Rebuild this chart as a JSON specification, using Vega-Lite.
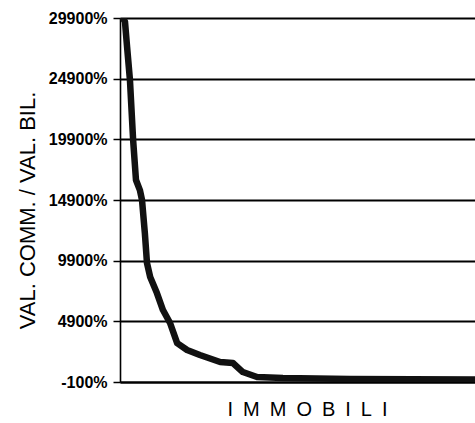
{
  "$schema": "https://vega.github.io/schema/vega-lite/v6.json",
  "width": 355,
  "height": 364,
  "autosize": {"type": "none"},
  "padding": {"left": 120, "top": 18, "right": 0, "bottom": 41},
  "background": "white",
  "config": {"view": {"stroke": null}, "font": "Liberation Sans"},
  "data": {"values": [
    {"i": 0.8, "v": 29900},
    {"i": 1.4, "v": 29600},
    {"i": 2.0, "v": 27500},
    {"i": 2.8, "v": 24800},
    {"i": 3.7, "v": 19840},
    {"i": 4.5, "v": 16550},
    {"i": 5.6, "v": 15720},
    {"i": 6.2, "v": 14900},
    {"i": 7.0, "v": 12180},
    {"i": 7.6, "v": 9710},
    {"i": 8.5, "v": 8550},
    {"i": 10.4, "v": 7230},
    {"i": 12.1, "v": 5830},
    {"i": 14.1, "v": 4760},
    {"i": 16.1, "v": 3110},
    {"i": 18.9, "v": 2540},
    {"i": 22.5, "v": 2125},
    {"i": 28.2, "v": 1550},
    {"i": 31.8, "v": 1465},
    {"i": 34.6, "v": 720},
    {"i": 38.6, "v": 310},
    {"i": 45.9, "v": 230},
    {"i": 64.8, "v": 150},
    {"i": 100, "v": 100}
  ]},
  "mark": {"type": "line", "color": "#111111", "strokeWidth": 6.5, "strokeCap": "round", "strokeJoin": "round", "clip": true},
  "encoding": {
    "x": {
      "field": "i", "type": "quantitative",
      "scale": {"domain": [0, 100], "nice": false, "zero": false},
      "axis": {
        "title": "I\u2002M\u2002M\u2002O\u2002B\u2002I\u2002L\u2002I",
        "titleFontSize": 20, "titleFontWeight": "normal", "titleColor": "#000",
        "titlePadding": 17, "titleX": 187,
        "labels": false, "ticks": false, "grid": false,
        "domainColor": "#000", "domainWidth": 2
      }
    },
    "y": {
      "field": "v", "type": "quantitative",
      "scale": {"domain": [-100, 29900], "nice": false, "zero": false},
      "axis": {
        "values": [-100, 4900, 9900, 14900, 19900, 24900, 29900],
        "labelExpr": "datum.value + '%'",
        "labelFontSize": 16, "labelFontWeight": "bold", "labelColor": "#000",
        "labelPadding": 6,
        "tickSize": 7, "tickColor": "#000", "tickWidth": 1.5,
        "grid": true, "gridColor": "#000", "gridWidth": 1.8, "gridOpacity": 1,
        "domainColor": "#000", "domainWidth": 1.6,
        "title": "VAL. COMM. / VAL. BIL.",
        "titleFontSize": 22, "titleFontWeight": "normal", "titleColor": "#000",
        "titlePadding": 9, "titleY": 192
      }
    }
  }
}
